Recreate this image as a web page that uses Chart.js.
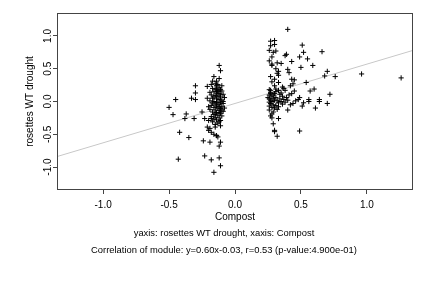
<!DOCTYPE html>
<html lang="en">
<head>
  <meta charset="UTF-8" />
  <title>rosettes WT drought vs Compost</title>
  <script src="https://cdn.jsdelivr.net/npm/chart.js"></script>
  <style>
    body {
      margin: 0;
      background: #ffffff;
      overflow: hidden;
    }

    .wrap {
      position: relative;
      width: 432px;
      height: 288px;
    }

    .caption {
      position: absolute;
      left: 16px;
      width: 416px;
      text-align: center;
      font-family: 'Liberation Sans', Arial, sans-serif;
      font-size: 9.4px;
      line-height: 12px;
      color: #000;
    }
  </style>
</head>
<body>
  <div class="wrap">
    <canvas id="scatter" width="432" height="288"></canvas>
    <div class="caption" style="top: 227px">yaxis: rosettes WT drought, xaxis: Compost</div>
    <div class="caption" style="top: 244px">Correlation of module: y=0.60x-0.03, r=0.53 (p-value:4.900e-01)</div>
  </div>

  <script>
    // [Compost, rosettes WT drought]
    // cluster around Compost = -0.15
    const leftGroup = [
      [-0.12, 0.55], [-0.11, 0.47], [-0.30, 0.24], [-0.21, 0.23], [-0.18, 0.26], [-0.13, 0.26],
      [-0.30, 0.13], [-0.33, 0.05], [-0.30, 0.03], [-0.45, 0.03], [-0.50, -0.09], [-0.47, -0.20],
      [-0.37, -0.19], [-0.38, -0.26], [-0.31, -0.26], [-0.42, -0.47], [-0.35, -0.55], [-0.24, -0.60],
      [-0.19, -0.62], [-0.43, -0.88], [-0.23, -0.83], [-0.18, -0.89], [-0.12, -0.86], [-0.11, -0.98],
      [-0.16, -1.08], [-0.21, -0.39], [-0.19, -0.41], [-0.15, -0.39], [-0.11, -0.37], [-0.20, -0.44],
      [-0.18, -0.47], [-0.16, -0.50], [-0.14, -0.52], [-0.13, -0.54], [-0.11, -0.62], [-0.12, -0.68],
      [-0.15, 0.27], [-0.14, 0.24], [-0.11, 0.18], [-0.13, 0.17], [-0.25, -0.16], [-0.23, -0.26],
      [-0.20, -0.29], [-0.18, -0.26],
      [-0.17, 0.20], [-0.15, 0.19], [-0.12, 0.21], [-0.10, 0.16], [-0.16, 0.15], [-0.14, 0.13],
      [-0.12, 0.12], [-0.09, 0.11], [-0.18, 0.10], [-0.15, 0.09], [-0.13, 0.08], [-0.11, 0.07],
      [-0.08, 0.06], [-0.17, 0.05], [-0.14, 0.04], [-0.12, 0.03], [-0.10, 0.02], [-0.19, 0.01],
      [-0.16, 0.00], [-0.13, -0.01], [-0.11, -0.02], [-0.09, -0.03], [-0.15, -0.04], [-0.12, -0.05],
      [-0.18, -0.06], [-0.14, -0.07], [-0.10, -0.08], [-0.16, -0.09], [-0.13, -0.10], [-0.11, -0.11],
      [-0.19, -0.12], [-0.15, -0.13], [-0.12, -0.14], [-0.09, -0.15], [-0.17, -0.16], [-0.14, -0.17],
      [-0.11, -0.18], [-0.16, -0.20], [-0.13, -0.21], [-0.10, -0.22], [-0.18, -0.23], [-0.15, -0.24],
      [-0.12, -0.25], [-0.14, -0.28], [-0.11, -0.29], [-0.17, -0.31], [-0.13, -0.33], [-0.15, -0.35],
      [-0.12, -0.17], [-0.14, -0.02], [-0.16, 0.07], [-0.13, 0.15], [-0.11, 0.10], [-0.15, -0.19],
      [-0.12, -0.08], [-0.17, -0.02], [-0.10, -0.13], [-0.14, 0.19], [-0.16, -0.27], [-0.12, -0.31],
      [-0.09, 0.00], [-0.08, -0.10], [-0.20, -0.08], [-0.21, 0.05], [-0.19, 0.14], [-0.10, 0.24],
      [-0.17, 0.31], [-0.16, 0.38], [-0.12, 0.35], [-0.14, 0.31]
    ];

    // cluster around Compost = 0.35
    const rightGroup = [
      [0.40, 1.10], [0.27, 0.92], [0.30, 0.93], [0.30, 0.87], [0.51, 0.86], [0.26, 0.78],
      [0.29, 0.75], [0.31, 0.77], [0.38, 0.70], [0.39, 0.72], [0.49, 0.68], [0.52, 0.75],
      [0.66, 0.76], [0.26, 0.62], [0.28, 0.57], [0.28, 0.55], [0.32, 0.59], [0.35, 0.58],
      [0.43, 0.61], [0.55, 0.65], [0.40, 0.49], [0.41, 0.44], [0.31, 0.50], [0.50, 0.52],
      [0.59, 0.55], [0.32, 0.43], [0.33, 0.40], [0.70, 0.46], [0.68, 0.39], [0.76, 0.38],
      [0.96, 0.42], [1.26, 0.36], [0.43, 0.34], [0.45, 0.33], [0.44, 0.27], [0.42, 0.24],
      [0.54, 0.29], [0.33, 0.29], [0.26, 0.18], [0.27, 0.17], [0.31, 0.19], [0.33, 0.17],
      [0.38, 0.17], [0.57, 0.16], [0.60, 0.19], [0.48, 0.03], [0.49, 0.06], [0.56, 0.03],
      [0.56, 0.00], [0.64, 0.03], [0.64, 0.00], [0.72, 0.11], [0.70, -0.03], [0.61, -0.10],
      [0.51, -0.07], [0.44, -0.03], [0.40, -0.13], [0.26, -0.13], [0.28, -0.19], [0.28, -0.25],
      [0.30, -0.10], [0.32, -0.12], [0.29, -0.34], [0.30, -0.44], [0.30, -0.46], [0.49, -0.45],
      [0.32, -0.53],
      [0.26, 0.10], [0.27, 0.12], [0.25, 0.06], [0.26, 0.04], [0.27, 0.02], [0.28, 0.08],
      [0.29, 0.05], [0.26, -0.01], [0.27, -0.03], [0.28, 0.00], [0.29, -0.05], [0.30, 0.02],
      [0.31, 0.06], [0.32, 0.01], [0.33, -0.02], [0.34, 0.04], [0.35, 0.00], [0.36, -0.04],
      [0.37, 0.03], [0.38, -0.01], [0.30, 0.12], [0.31, 0.15], [0.34, 0.11], [0.36, 0.08],
      [0.26, -0.07], [0.28, -0.09], [0.31, -0.06], [0.33, -0.08], [0.27, 0.14], [0.29, 0.10],
      [0.39, 0.06], [0.41, 0.10], [0.43, 0.12], [0.45, 0.16], [0.40, 0.02], [0.35, 0.13],
      [0.37, 0.20], [0.30, 0.24], [0.28, 0.30], [0.27, 0.38], [0.30, 0.34], [0.33, 0.46],
      [0.28, 0.68], [0.27, 0.85], [0.36, 0.22], [0.42, -0.05], [0.46, 0.01], [0.52, -0.02],
      [0.29, -0.16], [0.27, -0.22], [0.33, -0.26]
    ];

    const xTicks = [-1.0, -0.5, 0.0, 0.5, 1.0];
    const yTicks = [-1.0, -0.5, 0.0, 0.5, 1.0];
    const xRange = [-1.35, 1.35];
    const yRange = [-1.35, 1.35];

    // fitted line from the caption
    const slope = 0.60;
    const intercept = -0.03;

    const points = leftGroup.concat(rightGroup).map(p => ({ x: p[0], y: p[1] }));
    const fitLine = xRange.map(x => ({ x: x, y: slope * x + intercept }));

    const font = { family: "'Liberation Sans', Arial, sans-serif", size: 10 };
    const ink = '#444';

    // R draws a closed box round the plot region
    const boxPlugin = {
      id: 'box',
      afterDraw(chart) {
        const a = chart.chartArea;
        const ctx = chart.ctx;
        ctx.save();
        ctx.strokeStyle = ink;
        ctx.lineWidth = 1;
        ctx.strokeRect(a.left + 0.5, a.top + 0.5, a.right - a.left - 1, a.bottom - a.top - 1);
        ctx.restore();
      }
    };

    new Chart(document.getElementById('scatter'), {
      type: 'scatter',
      data: {
        datasets: [
          {
            label: 'genes',
            data: points,
            pointStyle: 'cross',
            radius: 2.6,
            borderColor: '#000',
            borderWidth: 1,
            order: 1
          },
          {
            type: 'line',
            label: 'fit',
            data: fitLine,
            borderColor: '#c8c8c8',
            borderWidth: 1,
            pointRadius: 0,
            fill: false,
            order: 2
          }
        ]
      },
      options: {
        responsive: false,
        animation: false,
        layout: { padding: { left: 0, right: 19, top: 13, bottom: 65 } },
        plugins: {
          legend: { display: false },
          tooltip: { enabled: false }
        },
        scales: {
          x: {
            type: 'linear',
            min: xRange[0],
            max: xRange[1],
            afterBuildTicks: s => { s.ticks = xTicks.map(v => ({ value: v })); },
            afterFit: s => { s.height = 33; },
            border: { display: false },
            grid: { drawOnChartArea: false, drawTicks: true, tickLength: 4, color: ink },
            ticks: {
              color: '#000',
              font: font,
              padding: 5,
              maxRotation: 0,
              callback: v => v.toFixed(1)
            },
            title: { display: true, text: 'Compost', color: '#000', font: font, padding: { top: 0, bottom: 0 } }
          },
          y: {
            type: 'linear',
            min: yRange[0],
            max: yRange[1],
            afterBuildTicks: s => { s.ticks = yTicks.map(v => ({ value: v })); },
            afterFit: s => { s.width = 57; },
            border: { display: false },
            grid: { drawOnChartArea: false, drawTicks: true, tickLength: 4, color: ink },
            ticks: {
              color: '#000',
              font: font,
              padding: -4,
              minRotation: 90,
              maxRotation: 90,
              crossAlign: 'center',
              callback: v => v.toFixed(1)
            },
            title: { display: true, text: 'rosettes WT drought', color: '#000', font: font, padding: { top: 24, bottom: 0 } }
          }
        }
      },
      plugins: [boxPlugin]
    });
  </script>
</body>
</html>
